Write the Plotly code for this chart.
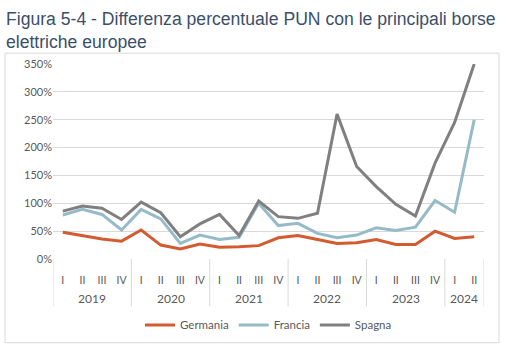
import plotly.graph_objects as go

years = ["2019"] * 4 + ["2020"] * 4 + ["2021"] * 4 + ["2022"] * 4 + ["2023"] * 4 + ["2024"] * 2
quarters = ["I", "II", "III", "IV"] * 5 + ["I", "II"]
year_labels = ["2019", "2020", "2021", "2022", "2023", "2024"]

germania = [48, 42, 36, 32, 52, 25, 18, 27, 21, 22, 24, 38, 42, 35, 28, 29, 35, 26, 26, 50, 37, 40]
francia = [79, 89, 80, 52, 89, 72, 28, 43, 35, 39, 100, 60, 64, 46, 38, 43, 56, 51, 57, 105, 84, 250]
spagna = [86, 95, 91, 71, 102, 83, 40, 63, 80, 42, 104, 76, 73, 82, 260, 166, 130, 98, 77, 172, 245, 350]

series = [("Germania", germania, "#D35B2F"), ("Francia", francia, "#96BBC8"), ("Spagna", spagna, "#808080")]

cats = [f"{y} {q}" for y, q in zip(years, quarters)]

fig = go.Figure()
for name, vals, col in series:
    fig.add_trace(go.Scatter(x=cats, y=vals, name=name, mode="lines",
                             line=dict(color=col, width=3)))

L, R, T, B = 53, 24, 64, 90
W, H = 508, 352
pw, ph = W - L - R, H - T - B

def px_x(p):
    return (p - L) / pw

def px_y(p):
    return (H - B - p) / ph

# outer chart frame
fig.add_shape(type="rect", xref="paper", yref="paper",
              x0=px_x(5), x1=px_x(499), y0=px_y(347), y1=px_y(53),
              line=dict(color="#D9D9D9", width=1), layer="below")

# year group dividers and labels
starts = []
for i, y in enumerate(years):
    if i == 0 or years[i - 1] != y:
        starts.append(i)
bounds = starts + [len(years)]
for b in bounds:
    fig.add_shape(type="line", xref="x", yref="paper", x0=b - 0.5, x1=b - 0.5,
                  y0=0, y1=px_y(310), line=dict(color="#D9D9D9", width=1))
for k, yl in enumerate(year_labels):
    mid = (bounds[k] + bounds[k + 1] - 1) / 2
    fig.add_annotation(x=mid, xref="x", y=px_y(302), yref="paper", text=yl,
                       showarrow=False, yanchor="middle",
                       font=dict(family="Lato", size=12, color="#595959"))

fig.add_annotation(text="Figura 5-4 - Differenza percentuale PUN con le principali borse<br>elettriche europee",
                   xref="paper", yref="paper", x=px_x(4), y=px_y(6), xanchor="left", yanchor="top",
                   align="left", showarrow=False,
                   font=dict(family="Liberation Sans", size=17.6, color="#3B4F6B"))

fig.update_layout(
    width=W, height=H,
    margin=dict(l=L, r=R, t=T, b=B),
    paper_bgcolor="white", plot_bgcolor="white",
    font=dict(family="Lato", size=11, color="#595959"),
    showlegend=True,
    legend=dict(orientation="h", x=0.5, xanchor="center", y=px_y(329), yanchor="middle",
                font=dict(family="Lato", size=11.5, color="#595959"), itemwidth=30),
    xaxis=dict(type="category", range=[-0.5, len(cats) - 0.5], showgrid=False, showline=False,
               tickvals=cats, ticktext=quarters, ticks="outside", ticklen=11,
               tickcolor="rgba(0,0,0,0)",
               tickfont=dict(family="Lato", size=10.5, color="#595959")),
    yaxis=dict(range=[0, 350], dtick=50, ticksuffix="%", showgrid=True, gridcolor="#D9D9D9",
               gridwidth=1, zeroline=False, showline=False,
               tickfont=dict(family="Lato", size=11, color="#595959")),
)

fig.write_html("out.html")
